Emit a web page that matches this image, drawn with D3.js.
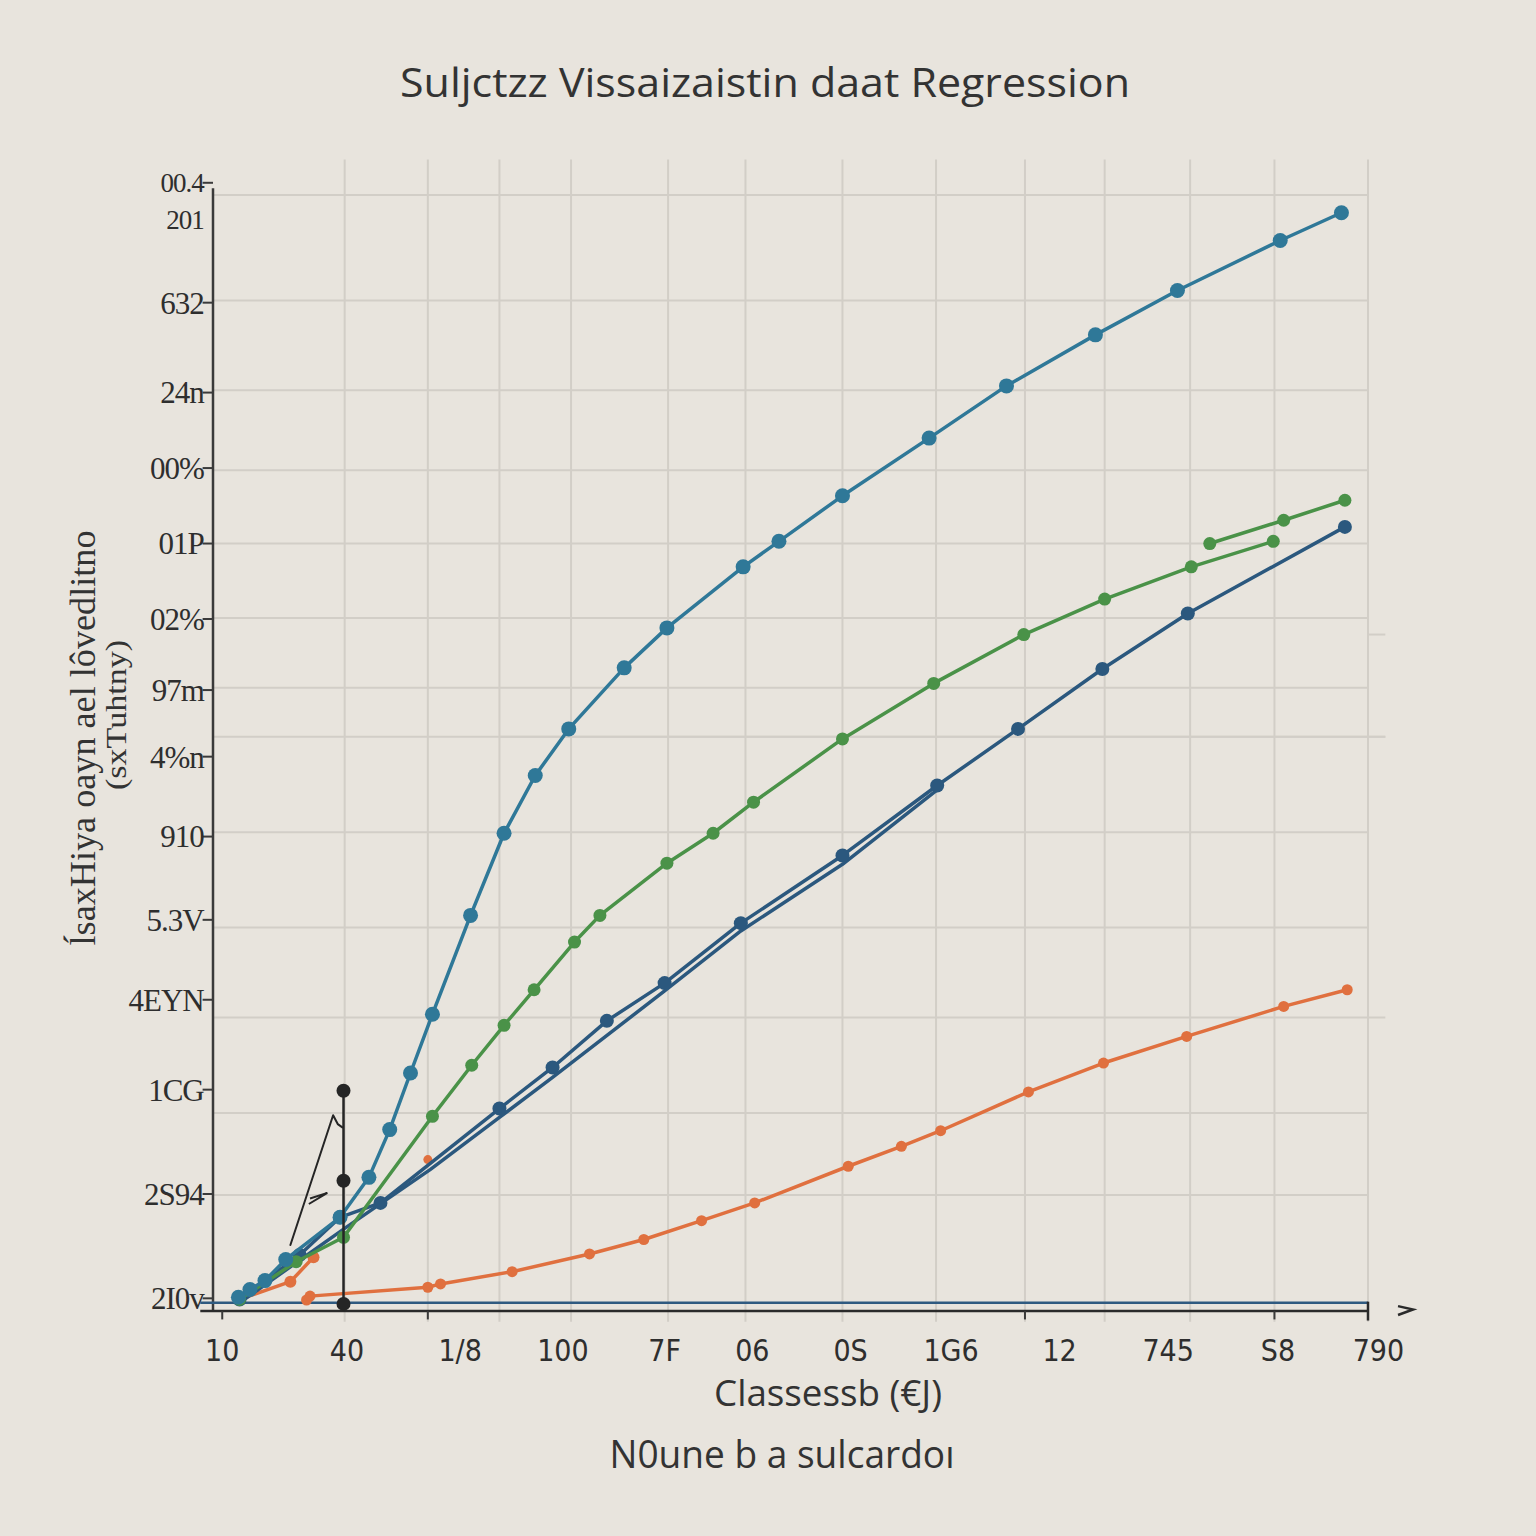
<!DOCTYPE html>
<html><head><meta charset="utf-8">
<script src="https://cdn.jsdelivr.net/npm/d3@7"></script>
<style>html,body{margin:0;padding:0;background:#e8e4dd;}svg{display:block;}</style>
</head><body>
<svg id="c" width="1536" height="1536"></svg>
<script>
// ---- data ----
const titleText = "Suljctzz Vissaizaistin daat Regression";
const xTitle = "Classessb (€J)";
const subTitle = "N0une b a sulcardoı";
const yTitle1 = "ĺsaxHiya  oayn ael lôvedlitno";
const yTitle2 = "(sxTuhtny)";

const xTickLabels = ["10","40","1/8","100","7F","06","0S","1G6","12","745","S8","790"];
const xTickPos    = [0.8, 11.6, 21.4, 30.3, 39.1, 46.7, 55.2, 63.9, 73.3, 82.7, 92.2, 100.9];
const yTickLabels = ["00.4","201","632","24n","00%","01P","02%","97m","4%n","910","5.3V","4EYN","1CG","2S94","2I0v"];
const yTickPos    = [101.1, 97.8, 90.3, 82.2, 75.4, 68.6, 61.8, 55.4, 49.4, 42.2, 34.7, 27.5, 19.4, 10.0, 0.6];
const xGrid = [11.4, 18.6, 24.8, 31.0, 39.4, 46.1, 54.5, 62.6, 70.3, 77.2, 84.6, 91.9, 100];
const yGrid = [100, 90.5, 82.4, 75.2, 68.6, 61.9, 55.6, 51.2, 42.6, 34.0, 25.9, 17.3, 9.9];

const tealX = [2.2,3.2,4.5,6.3,11.0,13.5,15.3,17.1,19.0,22.3,25.2,27.9,30.8,35.6,39.3,45.9,49.0,54.5,62.0,68.7,76.4,83.5,92.4,97.7];
const tealY = [0.7,1.4,2.2,4.1,7.9,11.5,15.8,20.9,26.2,35.1,42.5,47.7,51.9,57.4,61.0,66.5,68.8,72.9,78.1,82.8,87.4,91.4,95.9,98.4];

const greenX = [2.3,7.2,11.3,19.0,22.4,25.2,27.8,31.3,33.5,39.3,43.3,46.8,54.5,62.4,70.2,77.2,84.7,91.8];
const greenY = [0.5,3.9,6.1,17.0,21.6,25.2,28.4,32.7,35.1,39.8,42.5,45.3,51.0,56.0,60.4,63.6,66.5,68.8];
const green2X = [86.3,92.7,98.0];
const green2Y = [68.6,70.7,72.5];

const navyX = [2.3,7.5,11.0,14.5,24.8,29.4,34.1,39.1,45.7,54.5,62.7,69.7,77.0,84.4,98.0];
const navyY = [0.5,4.5,7.9,9.2,17.7,21.4,25.6,29.0,34.4,40.5,46.8,51.9,57.3,62.3,70.1];
const navy2X = [2.3,11.4,18.8,24.8,29.4,39.1,45.7,54.5,62.7];
const navy2Y = [0.2,6.9,12.2,16.9,20.5,28.3,33.7,39.7,46.4];

const orangeX = [8.1,8.4,18.6,19.7,25.9,32.6,37.3,42.3,46.9,55.0,59.6,63.0,70.6,77.1,84.3,92.7,98.2];
const orangeY = [0.45,0.8,1.6,1.9,3.0,4.6,5.9,7.6,9.2,12.5,14.3,15.7,19.2,21.8,24.2,26.9,28.4];
const orange2X = [2.3,6.7,8.7];
const orange2Y = [0.5,2.1,4.3];
const orangeLoneX = [18.6];
const orangeLoneY = [13.1];

const blackX = [11.3,11.3,11.3];
const blackY = [19.3,11.2,0.1];
const diagX = [6.7,10.4,10.8,11.2];
const diagY = [5.4,17.1,16.3,16.0];

// ---- drawing ----
const svg = d3.select("#c");
const W=1536,H=1536;
svg.append("rect").attr("width",W).attr("height",H).attr("fill","#e8e4dd");
const x = d3.scaleLinear().domain([0,100]).range([213,1368]);
const y = d3.scaleLinear().domain([0,100]).range([1305,195]);
const zip = (a,b)=>a.map((v,i)=>[v,b[i]]);
const line = d3.line().x(d=>x(d[0])).y(d=>y(d[1]));

// grid
const g = svg.append("g");
g.selectAll(".vg").data(xGrid).join("line")
  .attr("x1",d=>x(d)).attr("x2",d=>x(d)).attr("y1",y(103.2)).attr("y2",y(-1.5))
  .attr("stroke","#d2cec7").attr("stroke-width",2);
g.selectAll(".hg").data(yGrid).join("line")
  .attr("x1",x(0)).attr("x2",(d,i)=> (i===7)? x(101.5): x(100)).attr("y1",d=>y(d)).attr("y2",d=>y(d))
  .attr("stroke","#d2cec7").attr("stroke-width",2);
g.append("line").attr("x1",x(24.8)).attr("x2",x(101.5)).attr("y1",y(51.2)).attr("y2",y(51.2)).attr("stroke","#d2cec7").attr("stroke-width",2);
g.append("line").attr("x1",x(100)).attr("x2",x(101.5)).attr("y1",y(60.4)).attr("y2",y(60.4)).attr("stroke","#d2cec7").attr("stroke-width",2);
g.append("line").attr("x1",x(100)).attr("x2",x(101.5)).attr("y1",y(25.9)).attr("y2",y(25.9)).attr("stroke","#d2cec7").attr("stroke-width",2);

// axes
const ax = svg.append("g");
ax.append("line").attr("x1",x(0)).attr("x2",x(0)).attr("y1",y(100.6)).attr("y2",y(-0.6)).attr("stroke","#3a3a3a").attr("stroke-width",2.5);
ax.append("line").attr("x1",x(-1.1)).attr("x2",x(100)).attr("y1",y(-0.55)).attr("y2",y(-0.55)).attr("stroke","#2a2a2a").attr("stroke-width",2.5);
ax.append("line").attr("x1",x(-1.1)).attr("x2",x(100)).attr("y1",y(0.2)).attr("y2",y(0.2)).attr("stroke","#2f5a80").attr("stroke-width",2.5);
ax.append("line").attr("x1",x(100)).attr("x2",x(100)).attr("y1",y(0.3)).attr("y2",y(-1.4)).attr("stroke","#2a2a2a").attr("stroke-width",2.5);
ax.append("path").attr("d",`M${x(102.6)},${y(-0.1)} L${x(103.9)},${y(-0.4)} L${x(102.6)},${y(-0.9)}`).attr("fill","none").attr("stroke","#2a2a2a").attr("stroke-width",2.5);
ax.selectAll(".yt").data(yTickPos.filter((d,i)=>i!==1)).join("line")
  .attr("x1",x(-0.9)).attr("x2",x(0)).attr("y1",d=>y(d)).attr("y2",d=>y(d)).attr("stroke","#3a3a3a").attr("stroke-width",2);
ax.selectAll(".xt").data([0.8,18.6,70.3,91.9]).join("line")
  .attr("x1",d=>x(d)).attr("x2",d=>x(d)).attr("y1",y(-0.55)).attr("y2",y(-1.3)).attr("stroke","#3a3a3a").attr("stroke-width",2);

// y tick labels
svg.append("g").selectAll("text").data(yTickLabels).join("text")
  .attr("x",x(-0.8)).attr("y",(d,i)=>y(yTickPos[i])).attr("dy","0.35em")
  .attr("text-anchor","end").attr("font-family","Liberation Serif, DejaVu Serif, serif")
  .attr("font-size",(d,i)=> i<2 ? 27 : 31).attr("fill","#2e2e2e").attr("letter-spacing",-1).text(d=>d);

// x tick labels
svg.append("g").selectAll("text").data(xTickLabels).join("text")
  .attr("x",(d,i)=>x(xTickPos[i])).attr("y",1350).attr("dy","0.35em")
  .attr("text-anchor","middle").attr("font-family","Liberation Sans Narrow, DejaVu Sans Condensed, sans-serif")
  .attr("font-size",30).attr("fill","#2e2e2e").text(d=>d);

// series
function drawSeries(xs,ys,color,width,r,dots=true){
  const d = zip(xs,ys);
  svg.append("path").datum(d).attr("d",line).attr("fill","none").attr("stroke",color)
    .attr("stroke-width",width).attr("stroke-linejoin","round").attr("stroke-linecap","round");
  if(dots){
    svg.append("g").selectAll("circle").data(d).join("circle")
      .attr("cx",p=>x(p[0])).attr("cy",p=>y(p[1])).attr("r",r).attr("fill",color);
  }
}
drawSeries(orangeX,orangeY,"#e0703f",3.5,5.5);
drawSeries(orange2X,orange2Y,"#e0703f",3.5,6);
drawSeries(orangeLoneX,orangeLoneY,"#e0703f",3,4.5);
drawSeries(navy2X,navy2Y,"#2b587e",3.5,0,false);
drawSeries(navyX,navyY,"#2b587e",3.5,7);
drawSeries(greenX,greenY,"#4a9248",3.5,6.5);
drawSeries(green2X,green2Y,"#4a9248",3.5,6.5);
drawSeries(tealX,tealY,"#2f7898",3.5,7.5);
drawSeries(blackX,blackY,"#252525",2.5,7);
drawSeries(diagX,diagY,"#252525",2,0,false);
svg.append("path").datum(zip([8.4,9.9,8.3],[9.6,10.1,9.1])).attr("d",line).attr("fill","none").attr("stroke","#252525").attr("stroke-width",2);

// titles
svg.append("text").attr("x",765).attr("y",83).attr("dy","0.35em").attr("text-anchor","middle")
  .attr("font-family","Open Sans, DejaVu Sans, sans-serif").attr("font-size",40).attr("fill","#333")
  .attr("textLength",730).attr("lengthAdjust","spacingAndGlyphs").text(titleText);
svg.append("text").attr("x",828).attr("y",1393).attr("dy","0.35em").attr("text-anchor","middle")
  .attr("font-family","Open Sans, DejaVu Sans, sans-serif").attr("font-size",36).attr("fill","#333")
  .attr("textLength",228).attr("lengthAdjust","spacingAndGlyphs").text(xTitle);
svg.append("text").attr("x",782).attr("y",1455).attr("dy","0.35em").attr("text-anchor","middle")
  .attr("font-family","Open Sans, DejaVu Sans, sans-serif").attr("font-size",38).attr("fill","#333")
  .attr("textLength",345).attr("lengthAdjust","spacingAndGlyphs").text(subTitle);
svg.append("text").attr("transform","translate(82,738) rotate(-90)").attr("dy","0.35em").attr("text-anchor","middle")
  .attr("font-family","Liberation Serif, DejaVu Serif, serif").attr("font-size",36).attr("fill","#333")
  .attr("textLength",415).attr("lengthAdjust","spacingAndGlyphs").text(yTitle1);
svg.append("text").attr("transform","translate(115,715) rotate(-90)").attr("dy","0.35em").attr("text-anchor","middle")
  .attr("font-family","Liberation Serif, DejaVu Serif, serif").attr("font-size",30).attr("fill","#333")
  .attr("textLength",150).attr("lengthAdjust","spacingAndGlyphs").text(yTitle2);
</script>
</body></html>
